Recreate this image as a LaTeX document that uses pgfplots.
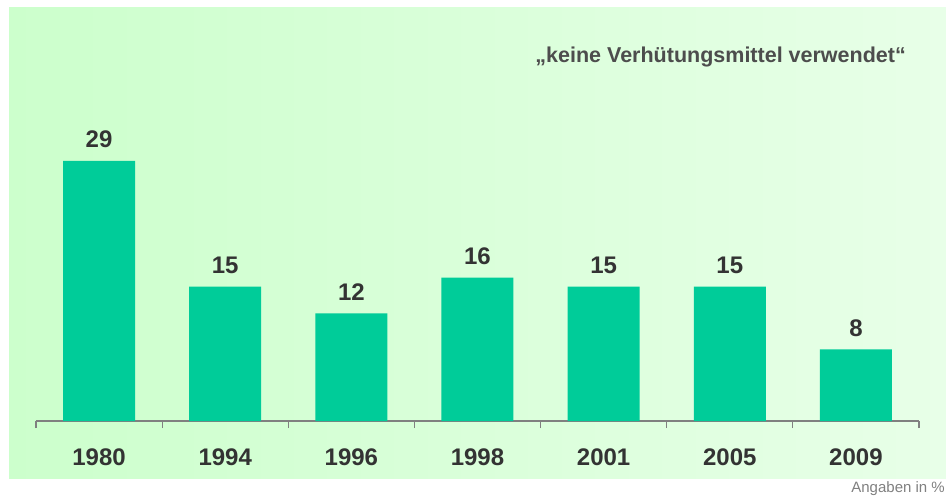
\documentclass[border=0pt]{standalone}
\usepackage{pgfplots}
\pgfplotsset{compat=1.18}
\usepackage{fontspec}
\setmainfont{Liberation Sans}
\definecolor{bgL}{RGB}{204,255,204}
\definecolor{bgR}{RGB}{232,255,232}
\definecolor{barc}{RGB}{0,204,153}
\definecolor{txt}{RGB}{51,51,51}
\definecolor{ttl}{RGB}{77,77,77}
\definecolor{axc}{RGB}{128,128,128}
\begin{document}
\begin{tikzpicture}
\useasboundingbox (0,0) rectangle (946pt,-497pt);
\shade[left color=bgL, right color=bgR] (9pt,-8pt) rectangle (946pt,-478pt);
\begin{axis}[
  at={(36pt,-421pt)}, anchor=south west,
  scale only axis, width=883pt, height=413pt,
  xmin=-0.5, xmax=6.5, ymin=0, ymax=46.06,
  axis y line=none, axis x line*=bottom,
  x axis line style={draw=axc, line width=1.2pt},
  xtick={0,...,6},
  xticklabels={\textbf{1980},\textbf{1994},\textbf{1996},\textbf{1998},\textbf{2001},\textbf{2005},\textbf{2009}},
  major tick length=0pt,
  minor xtick={-0.5,0.5,...,6.5}, minor tick length=7pt, tick align=outside,
  minor tick style={draw=axc, line width=1.2pt},
  xticklabel style={font=\fontsize{24}{24}\selectfont\bfseries, text=txt, anchor=base, yshift=-44pt, inner sep=0pt},
  /pgf/number format/assume math mode=true,
  ybar, bar width=72pt,
  nodes near coords={\textbf{\pgfmathprintnumber{\pgfplotspointmeta}}},
  nodes near coords style={font=\fontsize{24}{24}\selectfont\bfseries, text=txt, anchor=base, yshift=13pt, inner sep=0pt},
  clip=false,
]
\addplot[fill=barc, draw=none] coordinates {(0,29) (1,15) (2,12) (3,16) (4,15) (5,15) (6,8)};
\end{axis}
\node[anchor=base east, inner sep=0pt, text=ttl, font=\fontsize{21.5}{21.5}\selectfont\bfseries] at (906pt,-63pt) {„keine Verhütungsmittel verwendet“};
\node[anchor=base east, inner sep=0pt, text=axc, font=\fontsize{15}{15}\selectfont] at (945pt,-492pt) {Angaben in \%};
\end{tikzpicture}
\end{document}
